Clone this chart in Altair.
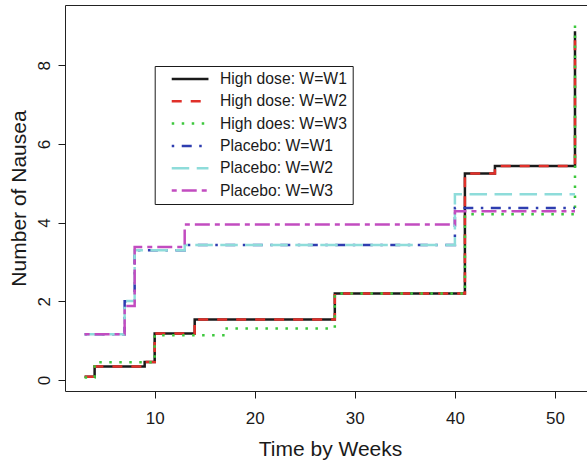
import altair as alt
import pandas as pd

# ---- data ----
series = ["High dose: W=W1", "High dose: W=W2", "High does: W=W3",
          "Placebo: W=W1", "Placebo: W=W2", "Placebo: W=W3"]

hd_w1_weeks = [3, 4, 9, 10, 14, 28, 41, 44, 52]
hd_w1_vals = [0.08, 0.34, 0.46, 1.18, 1.54, 2.20, 5.25, 5.44, 8.86]

hd_w2_weeks = [3, 4, 9, 10, 14, 28, 41, 44, 52]
hd_w2_vals = [0.08, 0.34, 0.46, 1.18, 1.54, 2.20, 5.25, 5.44, 8.86]

hd_w3_weeks = [3, 4, 10, 17, 28, 41, 52]
hd_w3_vals = [0.06, 0.45, 1.14, 1.31, 2.20, 4.21, 9.11]

pl_w1_weeks = [3, 7, 8, 13, 40, 52]
pl_w1_vals = [1.16, 2.00, 3.30, 3.43, 4.37, 4.37]

pl_w2_weeks = [3, 7, 8, 13, 40, 52]
pl_w2_vals = [1.16, 2.01, 3.30, 3.43, 4.72, 4.72]

pl_w3_weeks = [3, 7, 8, 13, 40, 52]
pl_w3_vals = [1.16, 1.88, 3.38, 3.95, 4.29, 4.29]

x_ticks = [10, 20, 30, 40, 50]
y_ticks = [0, 2, 4, 6, 8]

colors = ["#1a1a1a", "#e0302a", "#3cc83c", "#2e3db0", "#8edcda", "#c24cc0"]
dashes = [[1, 0], [10, 9], [2.5, 7.5], [2.5, 7.5, 10, 7.5], [17.5, 7.5], [5, 5, 15, 5]]

all_weeks = [hd_w1_weeks, hd_w2_weeks, hd_w3_weeks, pl_w1_weeks, pl_w2_weeks, pl_w3_weeks]
all_vals = [hd_w1_vals, hd_w2_vals, hd_w3_vals, pl_w1_vals, pl_w2_vals, pl_w3_vals]

rows = []
for i, (name, wk, vl) in enumerate(zip(series, all_weeks, all_vals)):
    for w, v in zip(wk, vl):
        rows.append({"series": name, "idx": i, "week": w, "value": v})
df = pd.DataFrame(rows)

FONT = "Liberation Sans"

legend_def = alt.Legend(title=None, labelExpr="datum.label + '\u00a0\u00a0\u00a0'")

chart = alt.Chart(df).mark_line(interpolate="step-after", strokeWidth=2.5).encode(
    x=alt.X("week:Q",
            scale=alt.Scale(domain=[1.04, 53.2], nice=False, zero=False),
            axis=alt.Axis(values=x_ticks, title="Time by Weeks", grid=False, domain=False,
                          tickSize=7, tickColor="#1a1a1a", labelPadding=25,
                          labelBaseline="alphabetic", labelFontSize=17, labelColor="#1a1a1a",
                          titleFontSize=21, titleFontWeight="normal", titleColor="#1a1a1a",
                          titleX=265, titleY=64, titleBaseline="alphabetic", titleAlign="center")),
    y=alt.Y("value:Q",
            scale=alt.Scale(domain=[-0.28, 9.53], nice=False, zero=False),
            axis=alt.Axis(values=y_ticks, title="Number of Nausea", grid=False, domain=False,
                          tickSize=7, tickColor="#1a1a1a", labelPadding=5,
                          labelAngle=270,
                          labelFontSize=17, labelColor="#1a1a1a",
                          titleFontSize=21, titleFontWeight="normal", titleColor="#1a1a1a",
                          titleX=-40, titleY=193, titleBaseline="alphabetic", titleAlign="center",
                          titleAngle=-90)),
    color=alt.Color("series:N", scale=alt.Scale(domain=series, range=colors), sort=series,
                    legend=legend_def),
    strokeDash=alt.StrokeDash("series:N", scale=alt.Scale(domain=series, range=dashes), sort=series,
                              legend=legend_def),
    detail="idx:O",
).properties(
    width=522,
    height=386,
    autosize=alt.AutoSizeParams(type="none"),
    padding={"left": 65, "top": 5, "right": 0, "bottom": 72},
).configure_view(
    stroke="#222222", strokeWidth=1
).configure_legend(
    orient="none", legendX=89.7, legendY=61,
    strokeColor="#1a1a1a", padding=5, fillColor="white",
    symbolType="stroke", symbolSize=1350, symbolStrokeWidth=2.5,
    symbolOffset=10.4, labelOffset=9.9, clipHeight=16, rowPadding=6.3,
    labelFontSize=15.7, labelFont=FONT, labelColor="#1a1a1a", labelLimit=300,
).configure_axis(
    labelFont=FONT, titleFont=FONT
)

chart.save("out.html", embed_options={"renderer": "svg", "actions": False})
